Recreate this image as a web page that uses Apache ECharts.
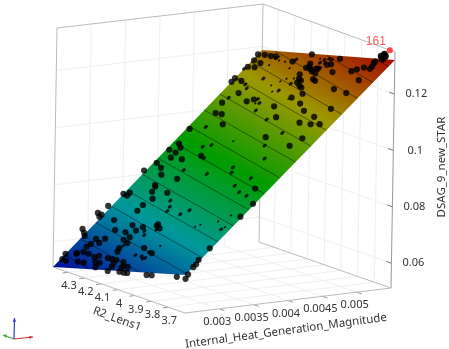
<!DOCTYPE html>
<html>
<head>
<meta charset="utf-8">
<style>html,body{margin:0;padding:0;background:#fff}#chart{width:449px;height:349px}</style>
<script src="https://cdn.jsdelivr.net/npm/echarts@6/dist/echarts.min.js"></script>
</head>
<body>
<div id="chart"></div>
<script>
// axis ranges and ticks
const heatRange = [0.0025, 0.0055]
const r2Range = [4.39, 3.6]
const dsagRange = [0.0512, 0.1349]
const heatTicks = [0.003, 0.0035, 0.004, 0.0045, 0.005]
const r2Ticks = [4.3, 4.2, 4.1, 4, 3.9, 3.8, 3.7]
const dsagTicks = [0.06, 0.08, 0.1, 0.12]
const heatName = 'Internal_Heat_Generation_Magnitude'
const r2Name = 'R2_Lens1'
const dsagName = 'DSAG_9_new_STAR'

// response surface, dsag[heat][r2]
const surfaceDsag = [[0.0512, 0.0646], [0.1187, 0.1321]]
const contourLevels = [0.055, 0.06, 0.065, 0.07, 0.075, 0.08, 0.085, 0.09, 0.095, 0.1, 0.105, 0.11, 0.115, 0.12, 0.125, 0.13]

// design points as [heat, r2], they sit on the surface
const bestPoint = [0.00562, 3.68]
const bestLabel = '161'
const wholePoints = [
  [0.00324,4.43],[0.00322,4.40],[0.00319,4.40],[0.00316,4.30],[0.0033,4.22],[0.00302,4.43],[0.00297,4.40],[0.00293,4.38],
  [0.00303,4.24],[0.00311,4.17],[0.00301,4.17],[0.00304,4.12],[0.00309,4.10],[0.00295,4.12],[0.00291,4.14],[0.00287,4.10],
  [0.00291,4.25],[0.0029,4.30],[0.00285,4.26],[0.00283,4.30],[0.00279,4.31],[0.00272,4.30],[0.0028,4.12],[0.00275,4.11],
  [0.00268,4.39],[0.00269,4.33],[0.0027,4.33],[0.00261,4.38],[0.00259,4.35],[0.0027,4.26],[0.00268,4.19],[0.00266,4.21],
  [0.0026,4.18],[0.00259,4.15],[0.00253,4.15],[0.00259,4.28],[0.00258,4.24],[0.00266,4.13],[0.00265,4.10],[0.0026,4.07],
  [0.00255,4.06],[0.00249,4.06],[0.00264,4.07],[0.00262,4.02],[0.00257,4.00],[0.00254,4.00],[0.00256,3.97],[0.00249,3.99],
  [0.00248,3.96],[0.00248,3.94],[0.00247,3.82],[0.00247,3.79],[0.00247,3.64],[0.00251,3.59],[0.00245,3.58],[0.00271,3.61],
  [0.00265,3.60],[0.00261,3.60],[0.00287,3.61],[0.00282,3.98],[0.00276,3.91],[0.00314,4.03],[0.00312,4.03],[0.00309,4.00],
  [0.00338,4.22],[0.00334,4.41],[0.00351,4.39],[0.00349,4.36],[0.00353,4.36],[0.00347,4.20],[0.00365,4.26],[0.00363,4.25],
  [0.00356,4.24],[0.00356,4.15],[0.00379,4.28],[0.00375,4.17],[0.00388,4.32],[0.00394,4.37],[0.00383,4.40],[0.00421,4.35],
  [0.00416,4.32],[0.00412,4.37],[0.00409,4.32],[0.00402,4.32],[0.00401,4.25],[0.00441,4.37],[0.0045,4.21],[0.00478,4.33],
  [0.00492,4.29],[0.00464,4.31],[0.00463,4.27],[0.00407,4.16],[0.00482,4.20],[0.00485,4.17],[0.00437,3.90],[0.00439,3.69],
  [0.00428,3.72],[0.00369,3.68],[0.00349,3.61],[0.00331,3.61],[0.00464,3.95],[0.00459,3.79],[0.00458,3.72],[0.00468,3.74],
  [0.00459,3.67],[0.00475,3.83],[0.0048,3.69],[0.00502,3.69],[0.00506,3.78],[0.0052,3.69],[0.00531,3.78],[0.00534,3.76],
  [0.00537,3.73],[0.00536,3.69],[0.00539,3.69],[0.00546,3.70],[0.00544,3.70],[0.00554,3.70],[0.00557,3.69],[0.00549,3.67],
  [0.00552,3.69],[0.00554,3.67],[0.00552,3.67],[0.00556,3.69],[0.00544,4.39],[0.00544,4.35],[0.00543,4.31],[0.00543,4.28],
  [0.00538,4.16],[0.00549,4.09],[0.00536,4.38],[0.00533,4.33],[0.00527,4.38],[0.00527,4.34],[0.00522,4.05],[0.00531,4.05],
  [0.00537,4.05],[0.00533,4.04],[0.0053,4.02],[0.00527,4.00],[0.00531,3.99],[0.00511,4.39],[0.00506,4.39],[0.00508,4.34],
  [0.00516,4.03],[0.00514,4.01],[0.00511,4.02],[0.00515,3.93],[0.00507,3.99],[0.00505,3.97],[0.00497,3.93],[0.00491,3.97],
  [0.00484,3.89],[0.00478,4.02],[0.00517,3.95],[0.00537,3.95],[0.00538,3.93],[0.00528,3.88],[0.00546,3.91],[0.00531,3.98],
  [0.00525,3.97]
]
const cutPoints = [
  [0.00304,4.07],[0.00284,4.11],[0.00272,3.99],[0.00271,3.95],[0.00277,3.93],[0.00269,3.92],[0.00268,3.93],[0.00299,4.05],
  [0.00307,4.01],[0.00346,4.09],[0.00338,4.06],[0.00332,4.05],[0.00335,3.93],[0.00329,3.96],[0.00313,3.65],[0.00387,4.18],
  [0.00445,4.29],[0.00419,4.20],[0.00422,4.16],[0.00404,4.13],[0.00384,4.03],[0.00485,4.32],[0.00486,4.15],[0.00481,4.12],
  [0.00471,4.10],[0.0046,3.99],[0.00426,3.86],[0.00409,3.79],[0.00444,3.83],[0.00395,3.92],[0.00388,3.90],[0.00382,3.76],
  [0.00371,3.81],[0.00363,3.75],[0.00359,3.69],[0.00541,4.27],[0.00541,4.15],[0.00524,4.39],[0.00513,4.23],[0.00504,4.30],
  [0.00499,4.27],[0.00509,4.05],[0.00499,4.08],[0.00543,3.99],[0.00545,3.97],[0.00539,3.97],[0.00539,4.00],[0.00544,3.95],
  [0.00532,3.97]
]
const specklePoints = [
  [0.00286,3.90],[0.00323,3.71],[0.00332,3.67],[0.00317,3.79],[0.00314,3.81],[0.00316,3.64],[0.0048,4.14],[0.00429,4.06],
  [0.00543,4.26],[0.00538,4.24],[0.00537,4.20],[0.00531,4.27],[0.00529,4.14],[0.00515,4.10],[0.00516,4.06],[0.00511,4.12],
  [0.00505,4.15],[0.00497,4.11],[0.00489,3.98],[0.00544,4.02]
]

// rainbow of the surface, from the lowest dsag to the highest
const surfaceColors = ['#040c9c', '#00989c', '#009c00', '#9c9800', '#a80800']

// where the corners of the plot box land in the picture
const floorCorners = [[53, 267], [259, 242], [185, 313], [391, 288]]
const topCorners = [[57, 28], [263, 4], [189, 76], [395, 52]]

const gridColor = '#f0f0f0'
const edgeColor = '#bbbbbb'
const textColor = '#333'
const tickFont = '11px "Noto Sans"'
const nameFont = '11.5px "Noto Sans"'

function project (heat, r2, dsag) {
  const u = (heat - heatRange[0]) / (heatRange[1] - heatRange[0])
  const v = (r2 - r2Range[0]) / (r2Range[1] - r2Range[0])
  const w = (dsag - dsagRange[0]) / (dsagRange[1] - dsagRange[0])
  const mix = (c, k) => (1 - u) * (1 - v) * c[0][k] + u * (1 - v) * c[1][k] + (1 - u) * v * c[2][k] + u * v * c[3][k]
  return [0, 1].map(k => mix(floorCorners, k) * (1 - w) + mix(topCorners, k) * w)
}

function dsagAt (heat, r2) {
  const u = (heat - heatRange[0]) / (heatRange[1] - heatRange[0])
  const v = (r2 - r2Range[0]) / (r2Range[1] - r2Range[0])
  return (1 - u) * (1 - v) * surfaceDsag[0][0] + u * (1 - v) * surfaceDsag[1][0] +
    (1 - u) * v * surfaceDsag[0][1] + u * v * surfaceDsag[1][1]
}

const onSurface = p => project(p[0], p[1], dsagAt(p[0], p[1]))

// box lines
const hMin = heatRange[0]; const hMax = heatRange[1]
const rMax = r2Range[0]; const rMin = r2Range[1]
const zMin = dsagRange[0]; const zMax = dsagRange[1]
const segments = []
const addSeg = (a, b, color, width) => segments.push({ a: project(...a), b: project(...b), color, width })
heatTicks.forEach(h => {
  addSeg([h, rMax, zMin], [h, rMax, zMax], gridColor, 1)
  addSeg([h, rMax, zMin], [h, rMin, zMin], gridColor, 1)
  addSeg([h, rMin, zMin], [h, rMin - 0.03, zMin], '#999', 1)
})
r2Ticks.forEach(r => {
  addSeg([hMax, r, zMin], [hMax, r, zMax], gridColor, 1)
  addSeg([hMin, r, zMin], [hMax, r, zMin], gridColor, 1)
  addSeg([hMin, r, zMin], [hMin - 0.00008, r, zMin], '#999', 1)
})
dsagTicks.forEach(z => {
  addSeg([hMin, rMax, z], [hMax, rMax, z], gridColor, 1)
  addSeg([hMax, rMax, z], [hMax, rMin, z], gridColor, 1)
  addSeg([hMax, rMin, z], [hMax, rMin + 0.03, z], '#777', 1)
})
addSeg([hMin, rMax, zMin], [hMin, rMax, zMax], edgeColor, 1)
addSeg([hMin, rMax, zMax], [hMax, rMax, zMax], edgeColor, 1)
addSeg([hMax, rMax, zMax], [hMax, rMin, zMax], edgeColor, 1)
addSeg([hMax, rMax, zMin], [hMax, rMax, zMax], edgeColor, 1)
addSeg([hMax, rMin, zMin], [hMax, rMin, zMax], '#999', 1)
addSeg([hMax, rMax, zMin], [hMax, rMin, zMin], edgeColor, 1)
addSeg([hMin, rMax, zMin], [hMin, rMin, zMin], edgeColor, 1)
addSeg([hMin, rMin, zMin], [hMax, rMin, zMin], edgeColor, 1)

// surface outline and its colour ramp direction
const surfaceOutline = [[hMin, rMax], [hMax, rMax], [hMax, rMin], [hMin, rMin]].map(onSurface)
function surfaceGradient () {
  const p0 = surfaceOutline[0]
  const a = [surfaceOutline[1][0] - p0[0], surfaceOutline[1][1] - p0[1]]
  const b = [surfaceOutline[3][0] - p0[0], surfaceOutline[3][1] - p0[1]]
  const dA = surfaceDsag[1][0] - surfaceDsag[0][0]
  const dB = surfaceDsag[0][1] - surfaceDsag[0][0]
  const det = a[0] * b[1] - a[1] * b[0]
  const g = [(dA * b[1] - dB * a[1]) / det, (a[0] * dB - b[0] * dA) / det]
  const span = (surfaceDsag[1][1] - surfaceDsag[0][0]) / (g[0] * g[0] + g[1] * g[1])
  const stops = surfaceColors.map((color, i) => ({ offset: i / (surfaceColors.length - 1), color }))
  return new echarts.graphic.LinearGradient(p0[0], p0[1], p0[0] + g[0] * span, p0[1] + g[1] * span, stops, true)
}

// contour polylines
const contourSteps = 20
const contours = contourLevels.map(level => {
  const pts = []
  for (let j = 0; j <= contourSteps; j++) {
    const r = rMax + (rMin - rMax) * j / contourSteps
    const low = dsagAt(hMin, r)
    const high = dsagAt(hMax, r)
    const h = hMin + (hMax - hMin) * (level - low) / (high - low)
    if (h >= hMin && h <= hMax) pts.push(project(h, r, level))
  }
  return pts
}).filter(p => p.length > 1)

// tick labels and axis names
const labels = []
heatTicks.forEach(h => {
  const p = project(h, rMin, zMin)
  labels.push({ text: String(h), x: p[0] - 2, y: p[1] + 13, rotation: 0, font: tickFont })
})
r2Ticks.forEach(r => {
  const p = project(hMin, r, zMin)
  labels.push({ text: String(r), x: p[0] + 1, y: p[1] + 14, rotation: 0, font: tickFont })
})
dsagTicks.forEach(z => {
  const p = project(hMax, rMin, z)
  labels.push({ text: String(z), x: p[0] + 22, y: p[1], rotation: 0, font: tickFont })
})
labels.push({ text: heatName, x: 286, y: 331, rotation: 0.134, font: nameFont })
labels.push({ text: r2Name, x: 117, y: 319, rotation: -0.35, font: nameFont })
labels.push({ text: dsagName, x: 442, y: 167, rotation: Math.PI / 2, font: nameFont })

const arrow = (x1, y1, x2, y2, color) => {
  const a = Math.atan2(y2 - y1, x2 - x1)
  const s = 4
  const l = [[x2, y2], [x2 - s * Math.cos(a - 0.45), y2 - s * Math.sin(a - 0.45)], [x2 - s * Math.cos(a + 0.45), y2 - s * Math.sin(a + 0.45)]]
  return [
    { type: 'line', shape: { x1, y1, x2, y2 }, style: { stroke: color, lineWidth: 1.2 } },
    { type: 'polygon', shape: { points: l }, style: { fill: color } }
  ]
}

const chart = echarts.init(document.getElementById('chart'))
chart.setOption({
  animation: false,
  backgroundColor: '#fff',
  grid: { left: 0, right: 0, top: 0, bottom: 0 },
  xAxis: { type: 'value', min: 0, max: 449, show: false },
  yAxis: { type: 'value', min: 0, max: 349, inverse: true, show: false },
  graphic: [
    ...arrow(14, 339, 3, 335, '#3aa63a'),
    ...arrow(14, 339, 33, 337, '#d03030'),
    ...arrow(14, 339, 14.5, 318, '#2a3cc8')
  ],
  series: [
    {
      type: 'custom',
      coordinateSystem: 'cartesian2d',
      silent: true,
      z: 1,
      data: segments.map((s, i) => [i]),
      renderItem (params, api) {
        const s = segments[api.value(0)]
        const a = api.coord(s.a)
        const b = api.coord(s.b)
        return { type: 'line', shape: { x1: a[0], y1: a[1], x2: b[0], y2: b[1] }, style: { stroke: s.color, lineWidth: s.width } }
      }
    },
    {
      type: 'custom',
      coordinateSystem: 'cartesian2d',
      silent: true,
      z: 2,
      data: [[0]],
      renderItem (params, api) {
        return { type: 'polygon', shape: { points: surfaceOutline.map(p => api.coord(p)) }, style: { fill: surfaceGradient() } }
      }
    },
    {
      type: 'custom',
      coordinateSystem: 'cartesian2d',
      silent: true,
      z: 3,
      data: contours.map((c, i) => [i]),
      renderItem (params, api) {
        const points = contours[api.value(0)].map(p => api.coord(p))
        return { type: 'polyline', shape: { points }, style: { fill: 'none', stroke: 'rgba(0,0,0,0.55)', lineWidth: 0.8 } }
      }
    },
    {
      type: 'scatter',
      silent: true,
      z: 4,
      symbol: 'circle',
      symbolSize: [2.6, 1.8],
      symbolRotate: 40,
      itemStyle: { color: '#000', opacity: 0.85 },
      data: specklePoints.map(onSurface)
    },
    {
      type: 'scatter',
      silent: true,
      z: 4,
      symbol: 'circle',
      symbolSize: [4.6, 3.2],
      symbolRotate: 40,
      itemStyle: { color: '#000' },
      data: cutPoints.map(onSurface)
    },
    {
      type: 'scatter',
      silent: true,
      z: 5,
      symbol: 'circle',
      symbolSize: 6.2,
      itemStyle: { color: '#000' },
      data: wholePoints.map(onSurface)
    },
    {
      type: 'scatter',
      silent: true,
      z: 6,
      symbol: 'circle',
      symbolSize: 6,
      itemStyle: { color: '#ff1a1a' },
      label: {
        show: true,
        formatter: bestLabel,
        position: 'left',
        distance: 1,
        offset: [0, -9],
        color: '#ff3030',
        font: '12px "Noto Sans"'
      },
      data: [onSurface(bestPoint)]
    },
    {
      type: 'custom',
      coordinateSystem: 'cartesian2d',
      silent: true,
      z: 7,
      data: labels.map((l, i) => [i]),
      renderItem (params, api) {
        const l = labels[api.value(0)]
        const p = api.coord([l.x, l.y])
        return {
          type: 'text',
          x: p[0],
          y: p[1],
          rotation: l.rotation,
          style: { text: l.text, x: 0, y: 0, fill: textColor, font: l.font, align: 'center', verticalAlign: 'middle' }
        }
      }
    }
  ]
})
</script>
</body>
</html>
